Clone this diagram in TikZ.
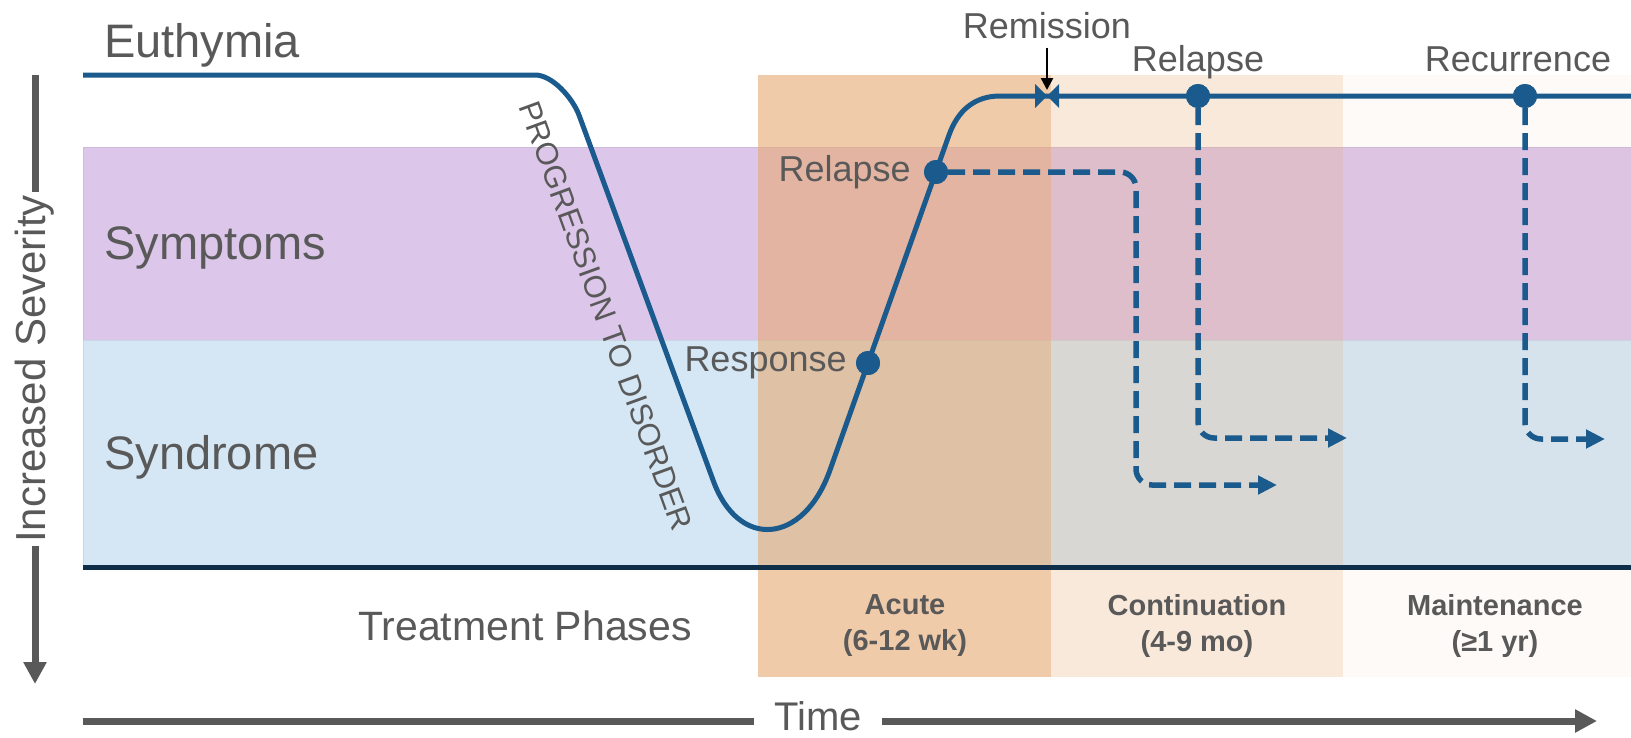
\documentclass[tikz,border=0pt]{standalone}
\usepackage{fontspec}
\setmainfont{Liberation Sans}
\usetikzlibrary{arrows.meta,positioning}
\definecolor{curveblue}{RGB}{26,90,140}
\definecolor{txtgray}{RGB}{89,89,89}
\definecolor{symcol}{RGB}{220,198,234}
\definecolor{syncol}{RGB}{213,231,244}
\definecolor{basenavy}{RGB}{14,46,74}
\definecolor{phaseorange}{RGB}{230,168,113}
\tikzset{
  biglbl/.style={text=txtgray, font=\fontsize{47}{56}\selectfont, inner sep=0pt},
  smlbl/.style={text=txtgray, font=\fontsize{36}{43}\selectfont, inner sep=0pt},
  phaselbl/.style={text=txtgray, font=\fontsize{29}{36}\selectfont\bfseries, align=center},
  dot/.style={circle, fill=curveblue, inner sep=0pt, minimum size=24pt},
  dashline/.style={curveblue, line width=5.5pt, dash pattern=on 17pt off 8pt,
    rounded corners=16pt, -{Triangle[length=19pt,width=18pt]}},
  axisline/.style={txtgray, line width=7pt},
}
\begin{document}
\begin{tikzpicture}[x=1pt,y=-1pt]
    \useasboundingbox (0,0) rectangle (1631,737);
    % severity bands
    \filldraw[fill=symcol, draw=symcol!85!gray, line width=0.8pt] (83,147) rectangle (1631,340);
    \filldraw[fill=syncol, draw=syncol!85!gray, line width=0.8pt] (83,340) rectangle (1631,567);
    % treatment phases
    \fill[phaseorange, opacity=0.6] (758,75) rectangle (1051,677);
    \fill[phaseorange, opacity=0.25] (1051,75) rectangle (1343,677);
    \fill[phaseorange, opacity=0.06] (1343,75) rectangle (1631,677);
    \draw[basenavy, line width=5pt] (83,567) -- (1631,567);
    % course of illness
    \draw[curveblue, line width=5pt] (83,75) -- (535,75)
        .. controls (552,75) and (572,97) .. (579,115) -- (713,480)
        .. controls (738,550) and (803.5,545) .. (830,470) -- (949,135)
        .. controls (958,110) and (975,96) .. (1000,96) -- (1631,96);
    \coordinate (remit) at (1047,96);
    \fill[curveblue] (remit) -- ++(-12,-12) -- ++(0,24) -- cycle
        (remit) -- ++(12,-12) -- ++(0,24) -- cycle;
    % dashed outcomes
    \node[dot] (resp) at (868,363) {};
    \node[dot] (relin) at (936,172) {};
    \node[dot] (reltop) at (1198,96) {};
    \node[dot] (recur) at (1525,96) {};
    \coordinate (turnA) at (1136,485);
    \coordinate (endA) at (1277,485);
    \coordinate (endB) at (1347,438);
    \coordinate (endC) at (1605,439);
    \draw[dashline] (relin) -| (turnA) -- (endA);
    \draw[dashline] (reltop) |- (endB);
    \draw[dashline] (recur) |- (endC);
    \node[dot] at (resp) {};
    \node[dot] at (relin) {};
    \node[dot] at (reltop) {};
    \node[dot] at (recur) {};
    % labels
    \node[smlbl, left=9pt of resp] (resplbl) {Response};
    \node[smlbl, left=13pt of relin] (relinlbl) {Relapse};
    \node[smlbl, above=5pt of reltop] (reltoplbl) {Relapse};
    \node[smlbl, above=12pt of recur, xshift=-7pt] (recurlbl) {Recurrence};
    \node[smlbl, anchor=base] (remlbl) at (1047,38) {Remission};
    \draw[line width=2.5pt, shorten <=9pt, shorten >=6pt,
        -{Triangle[length=12pt,width=12pt]}] (remlbl) -- (remit);
    \node[biglbl, anchor=base west] (euth) at (104,57) {Euthymia};
    \node[biglbl, anchor=base west] (sympt) at (104,259) {Symptoms};
    \node[biglbl, anchor=base west] (syndr) at (104,469) {Syndrome};
    \node[text=txtgray, font=\fontsize{31}{37}\selectfont, rotate=-70] (prog)
        at (606,316) {PROGRESSION TO DISORDER};
    \node[text=txtgray, font=\fontsize{41}{49}\selectfont, anchor=base west,
        inner sep=0pt] (phases) at (358,640) {Treatment Phases};
    \node[phaselbl] (acute) at (905,626) {Acute\\(6-12 wk)};
    \node[phaselbl] (contin) at (1197,626) {Continuation\\(4-9 mo)};
    \node[phaselbl] (maint) at (1495,626) {Maintenance\\(≥1 yr)};
    % axes
    \node[text=txtgray, font=\fontsize{42}{50}\selectfont, rotate=90] (sev)
        at (35,369) {Increased Severity};
    \coordinate (sevtop) at (35,75);
    \coordinate (sevbot) at (35,684);
    \draw[axisline] (sevtop) -- (sev);
    \draw[axisline, -{Triangle[length=22pt,width=22pt]}] (sev) -- (sevbot);
    \node[text=txtgray, font=\fontsize{40}{48}\selectfont, inner xsep=20pt] (time)
        at (818,716) {Time};
    \coordinate (tstart) at (83,721);
    \coordinate (tend) at (1597,721);
    \draw[axisline] (tstart) -- (time.west |- tstart);
    \draw[axisline, -{Triangle[length=22pt,width=22pt]}] (time.east |- tstart) -- (tend);
\end{tikzpicture}
\end{document}
